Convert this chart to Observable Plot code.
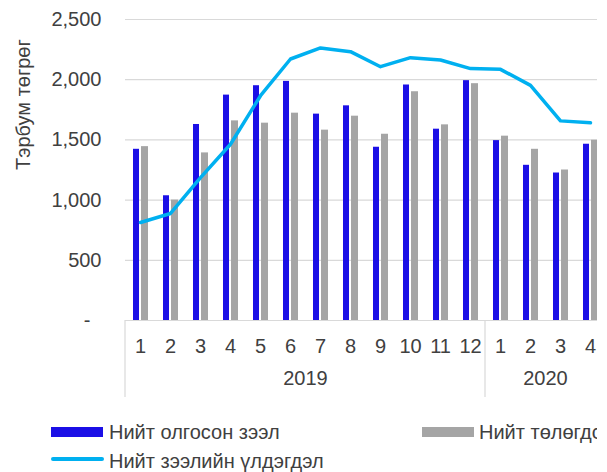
<!DOCTYPE html>
<html>
<head>
<meta charset="utf-8">
<script src="https://cdn.jsdelivr.net/npm/d3@7"></script>
<script src="https://cdn.jsdelivr.net/npm/@observablehq/plot@0.6"></script>
<style>
  html, body { margin: 0; padding: 0; background: #fff; }
  #wrap { position: relative; width: 597px; height: 472px; overflow: hidden; font-family: "Liberation Sans", Arial, sans-serif; }
  .lg { position: absolute; font-size: 20px; line-height: 20px; color: #404040; white-space: nowrap; }
  .sw { position: absolute; }
</style>
</head>
<body>
<div id="wrap"></div>
<script>
const years = ["2019","2019","2019","2019","2019","2019","2019","2019","2019","2019","2019","2019","2020","2020","2020","2020"];
const months = ["1","2","3","4","5","6","7","8","9","10","11","12","1","2","3","4"];
const loansIssued = [1422,1036,1628,1872,1950,1986,1714,1783,1439,1956,1589,1992,1494,1289,1225,1464];
const loansRepaid = [1444,1000,1392,1658,1639,1722,1581,1697,1547,1900,1625,1967,1531,1422,1250,1497];
const loanBalance = [814,889,1186,1464,1867,2172,2264,2233,2108,2183,2164,2092,2086,1953,1658,1642];
const yTicks = [0,500,1000,1500,2000,2500];
const seriesNames = ["Нийт олгосон зээл","Нийт төлөгдсөн зээл","Нийт зээлийн үлдэгдэл"];
const yTitle = "Тэрбум төгрөг";

const keys = months.map((m,i) => years[i] + "-" + m);
const rows = keys.map((k,i) => ({key:k, issued:loansIssued[i], repaid:loansRepaid[i], balance:loanBalance[i]}));
const yearGroups = Array.from(new Set(years)).map(y => {
  const ks = keys.filter((k,i) => years[i] === y);
  return {year:y, first:ks[0], mid:ks[Math.floor(ks.length/2) - 1]};
});

const BLUE = "#1B0FE6", GRAY = "#A5A5A5", LINE = "#00B0F0", GRID = "#D9D9D9";

const chart = Plot.plot({
  width: 607, height: 400,
  marginLeft: 125, marginRight: 2, marginTop: 19, marginBottom: 80,
  style: {fontFamily: "'Liberation Sans', Arial, sans-serif", fontSize: "20px", color: "#404040", overflow: "hidden", background: "#fff", maxWidth: "none"},
  x: {domain: keys, padding: 0, axis: null},
  y: {domain: [0,2500], axis: null},
  marks: [
    Plot.gridY(yTicks.slice(1), {stroke: GRID, strokeOpacity: 1, strokeWidth: 1.2}),
    Plot.axisY(yTicks, {tickSize: 0, tickPadding: 24, label: null, fill: "#404040",
      tickFormat: d => d === 0 ? "-\u00a0\u00a0" : d3.format(",")(d)}),
    Plot.barY(rows, {x: "key", y: "issued", fill: BLUE, insetLeft: 8, insetRight: 16}),
    Plot.barY(rows, {x: "key", y: "repaid", fill: GRAY, insetLeft: 16, insetRight: 7}),
    Plot.ruleY([0], {stroke: GRID, strokeWidth: 1.2}),
    Plot.lineY(rows, {x: "key", y: "balance", stroke: LINE, strokeWidth: 3.5}),
    Plot.axisX(keys, {tickSize: 0, tickPadding: 18, label: null, fill: "#404040",
      tickFormat: k => k.split("-")[1]}),
    Plot.text(yearGroups, {x: "mid", text: "year", frameAnchor: "bottom", dx: 15, dy: 64, fill: "#404040"}),
    Plot.text([yTitle], {frameAnchor: "left", text: d => d, rotate: -90, dx: -102, fill: "#404040"})
  ]
});
chart.style.maxWidth = "none";

// group separators below the axis, positioned with the chart's own x scale
const xs = chart.scale("x");
const svg = d3.select(chart);
yearGroups.forEach(g => {
  const xv = xs.apply(g.first);
  svg.append("line").attr("x1", xv).attr("x2", xv).attr("y1", 320).attr("y2", 397)
    .attr("stroke", GRID).attr("stroke-width", 1.2);
});
const lastKey = keys[keys.length-1];
const xe = xs.apply(lastKey) + xs.bandwidth;
svg.append("line").attr("x1", xe).attr("x2", xe).attr("y1", 320).attr("y2", 397)
  .attr("stroke", GRID).attr("stroke-width", 1.2);

const wrap = document.getElementById("wrap");
chart.style.position = "absolute";
chart.style.left = "0px";
chart.style.top = "0px";
wrap.appendChild(chart);

function addSwatch(left, top, w, h, color, radius) {
  const d = document.createElement("div");
  d.className = "sw";
  Object.assign(d.style, {left: left+"px", top: top+"px", width: w+"px", height: h+"px", background: color, borderRadius: radius || "0"});
  wrap.appendChild(d);
}
function addText(left, top, txt) {
  const d = document.createElement("div");
  d.className = "lg";
  d.style.left = left + "px";
  d.style.top = top + "px";
  d.textContent = txt;
  wrap.appendChild(d);
}
addSwatch(51, 427, 52, 10, BLUE);
addText(109, 422, seriesNames[0]);
addSwatch(422, 427, 52, 10, GRAY);
addText(479, 422, seriesNames[1]);
addSwatch(51, 457, 53, 3.5, LINE, "2px");
addText(109, 451, seriesNames[2]);
</script>
</body>
</html>
